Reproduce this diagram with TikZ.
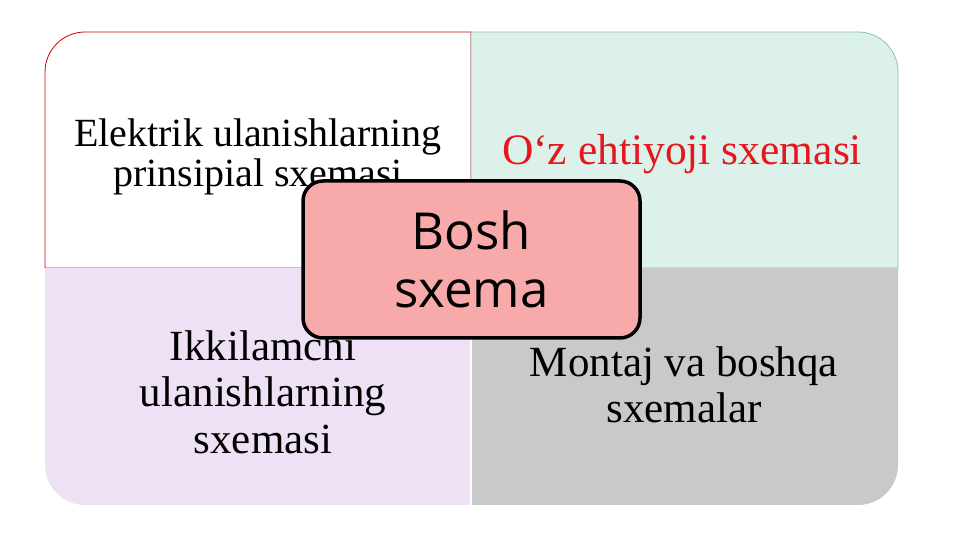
\documentclass[tikz,border=0pt]{standalone}
\usepackage{fontspec}
\setmainfont{Liberation Serif}
\newfontfamily\boshfont{Open Sans}
\definecolor{yalpiz}{HTML}{DCF1EA}
\definecolor{yalpizchiziq}{HTML}{8DC4AC}
\definecolor{binafsha}{HTML}{EEE0F5}
\definecolor{kulrang}{HTML}{C9C9C9}
\definecolor{pushti}{HTML}{F8AAAA}
\definecolor{qizil}{HTML}{E8141E}
\tikzset{
  matn/.style={align=center,inner sep=0pt},
  bosh/.style={draw=black,line width=3.5pt,fill=pushti,rounded corners=20pt,
    minimum width=337pt,minimum height=157pt,align=center,
    font=\boshfont\fontsize{51pt}{58pt}\selectfont}
}
\begin{document}
\begin{tikzpicture}[x=1pt,y=1pt,line join=round]
			\def\xl{45} 
			\def\xm{471}
			\def\xr{898}
			\def\yb{35} 
			\def\ym{272}
			\def\yt{508}
			\def\r{40}
			\useasboundingbox (0,0) rectangle (961,540);
			% to'rt bo'lak
			\draw [fill=white,draw=red!80!black,line width=0.8pt] (\xl,\ym)--(\xl,\yt-\r) arc (180:90:\r)--(\xm,\yt)--(\xm,\ym)--cycle;
			\draw [fill=yalpiz,draw=yalpizchiziq,line width=0.8pt] (\xm,\ym)--(\xm,\yt)--(\xr-\r,\yt) arc (90:0:\r)--(\xr,\ym)--cycle;
			\fill [binafsha] (\xl,\ym)--(\xl,\yb+\r) arc (180:270:\r)--(\xm,\yb)--(\xm,\ym)--cycle;
			\fill [kulrang] (\xm,\ym)--(\xm,\yb)--(\xr-\r,\yb) arc (270:360:\r)--(\xr,\ym)--cycle;
			\draw [white,line width=1.5pt] (\xm,\yb)--(\xm,\ym);
			% matnlar
			\node [matn,font=\fontsize{40pt}{40pt}\selectfont] (prinsipial) at (258,383) {Elektrik ulanishlarning\\prinsipial sxemasi};
			\node [matn,text=qizil,font=\fontsize{43.5pt}{46pt}\selectfont] (ehtiyoj) at (682,386) {O‘z ehtiyoji sxemasi};
			\node [matn,font=\fontsize{43pt}{46.5pt}\selectfont] (ikkilamchi) at (263,148) {Ikkilamchi\\ulanishlarning\\sxemasi};
			\node [matn,font=\fontsize{43pt}{46pt}\selectfont] (montaj) at (684,155) {Montaj va boshqa\\sxemalar};
			\node [bosh] (markaz) at (471.5,280.5) {Bosh\\sxema};
		\end{tikzpicture}
\end{document}
